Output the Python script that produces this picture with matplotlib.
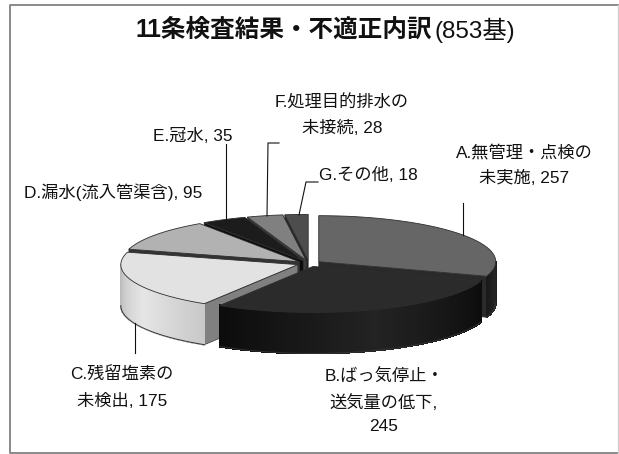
import numpy as np
import matplotlib
matplotlib.use("Agg")
import matplotlib.pyplot as plt
from matplotlib.patches import Polygon
from matplotlib.colors import to_rgb

FONTS = ['Liberation Sans', 'Noto Sans CJK JP', 'DejaVu Sans']
plt.rcParams['font.family'] = FONTS

categories = ['A.無管理・点検の\n未実施', 'B.ばっ気停止・\n送気量の低下,', 'C.残留塩素の\n未検出',
              'D.漏水(流入管渠含)', 'E.冠水', 'F.処理目的排水の\n未接続', 'G.その他']
values = [257, 245, 175, 95, 35, 28, 18]
title_bold = '11条検査結果・不適正内訳'
title_regular = '(853基)'

top_colors = ['#666666', '#2b2b2b', '#e2e2e2', '#b2b2b2', '#1c1c1c', '#808080', '#4d4d4d']
wall_colors = ['#2a2a2a', '#1a1a1a', '#808080', '#333333', '#0c0c0c', '#3c3c3c', '#222222']
side_left = ['#1a1a1a', '#0c0c0c', '#bdbdbd', '#333', '#111', '#333', '#222']
side_mid = ['#262626', '#232323', '#e6e6e6', '#333', '#111', '#333', '#222']
side_right = ['#1a1a1a', '#0c0c0c', '#c8c8c8', '#333', '#111', '#333', '#222']
draw_order = [6, 5, 4, 3, 2, 0, 1]

W, H = 619, 454
CX, CY, RX, RY, DEPTH, EXPLODE = 309, 263.5, 177, 46, 41, 12

fig = plt.figure(figsize=(W / 100, H / 100), dpi=100, facecolor='white')
ax = fig.add_axes([0, 0, 1, 1])
ax.set_xlim(0, W)
ax.set_ylim(H, 0)
ax.axis('off')

# frame
ax.plot([618, 10, 10, 618], [4.5, 4.5, 452.5, 452.5], color='#8a8a8a', lw=1.4, clip_on=False)
ax.plot([618, 618], [4.5, 452.5], color='#d0d0d0', lw=1.0, clip_on=False)


def pt(cx, cy, deg):
    r = np.radians(deg)
    return cx + RX * np.sin(r), cy - RY * np.cos(r)


def mix(c1, c2, f):
    a, b = np.array(to_rgb(c1)), np.array(to_rgb(c2))
    return tuple(a + (b - a) * f)


edges = np.concatenate([[0], np.cumsum(values)]) / sum(values) * 360.0

for i in draw_order:
    t0, t1 = edges[i], edges[i + 1]
    mid = np.radians((t0 + t1) / 2)
    cx = CX + EXPLODE * np.sin(mid)
    cy = CY - EXPLODE * RY / RX * np.cos(mid)
    z = 2 + draw_order.index(i) * 0.1
    # visible cut walls
    for t, visible in ((t0, np.sin(np.radians(t0)) < -1e-6), (t1, np.sin(np.radians(t1)) > 1e-6)):
        if visible:
            x, y = pt(cx, cy, t)
            ax.add_patch(Polygon([(cx, cy), (x, y), (x, y + DEPTH), (cx, cy + DEPTH)], closed=True,
                                 fc=wall_colors[i], ec='#3a3a3a', lw=0.5, zorder=z))
    # outer rim, visible on the front half
    a0, a1 = max(t0, 90), min(t1, 270)
    if a1 > a0:
        steps = np.linspace(a0, a1, int(a1 - a0) * 2 + 2)
        for s0, s1 in zip(steps[:-1], steps[1:]):
            x0, y0 = pt(cx, cy, s0)
            x1, y1 = pt(cx, cy, s1)
            f = ((s0 + s1) / 2 - a0) / (a1 - a0)
            col = mix(side_right[i], side_mid[i], f * 2) if f < .5 else mix(side_mid[i], side_left[i], f * 2 - 1)
            ax.add_patch(Polygon([(x0, y0), (x1, y1), (x1, y1 + DEPTH), (x0, y0 + DEPTH)], closed=True,
                                 fc=col, ec=col, lw=0.8, antialiased=False, zorder=z))
        ang = np.radians(steps)
        ax.plot(cx + RX * np.sin(ang), cy - RY * np.cos(ang) + DEPTH, color='#333333', lw=0.7, zorder=z)
    # top face
    ang = np.radians(np.linspace(t0, t1, max(int(t1 - t0) * 2, 4)))
    poly = [(cx, cy)] + list(zip(cx + RX * np.sin(ang), cy - RY * np.cos(ang)))
    ax.add_patch(Polygon(poly, closed=True, fc=top_colors[i], ec='#2e2e2e', lw=0.6, zorder=z + 0.01))

# leader lines
for xs, ys in (([463, 463], [203, 235]), ([135, 135], [323, 353]), ([226, 226], [144, 220]),
               ([279, 268, 267], [143, 143, 216]), ([318, 306, 299], [182, 182, 215])):
    ax.plot(xs, ys, color='#111111', lw=0.8, zorder=5)

FS = 12.4
LS = 1.72
label_pos = [(524, 165), (384, 401), (122, 388), (113, 192), (193, 136), (342, 115), (368, 175)]
for name, v, (x, y), i in zip(categories, values, label_pos, range(7)):
    s = f'{name}\n{v}' if i == 1 else f'{name}, {v}'
    ax.text(x, y, s, ha='center', va='center', fontsize=FS, color='#111111', linespacing=LS, zorder=6)

ax.text(432, 30, title_bold, ha='right', va='center', fontsize=17.7, fontweight='bold', color='#111111')
ax.text(435, 30, title_regular, ha='left', va='center', fontsize=17.5, color='#111111')

fig.savefig('out.png', dpi=100, facecolor='white')
